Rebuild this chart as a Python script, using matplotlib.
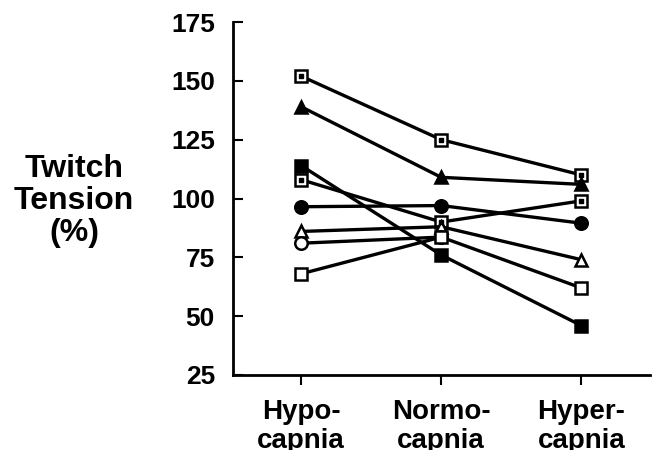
import numpy as np
import matplotlib
matplotlib.use("Agg")
import matplotlib.pyplot as plt

categories = ["Hypo-\ncapnia", "Normo-\ncapnia", "Hyper-\ncapnia"]
s_dotsq1 = [152, 125, 110]
s_filltri = [139, 109, 106]
s_fillsq = [114, 76, 46]
s_dotsq2 = [108, 90, 99]
s_fillcirc = [96.5, 97, 89.5]
s_opentri = [86, 88, 74]
s_opencirc = [81, 83.6, np.nan]
s_opensq = [68, 83.6, 62]
yticks = [25, 50, 75, 100, 125, 150, 175]

plt.rcParams['font.family'] = ['Liberation Sans', 'DejaVu Sans']
plt.rcParams['font.weight'] = 'bold'

fig = plt.figure(figsize=(6.52, 4.5), dpi=100)
ax = fig.add_axes([233/652, 75/450, (650-233)/652, (375-22)/450])
x = np.arange(len(categories))

lw = 2.4
ms = 9
mew = 1.8
series = [
    (s_dotsq1, 's', 'white', True),
    (s_filltri, '^', 'black', False),
    (s_fillsq, 's', 'black', False),
    (s_dotsq2, 's', 'white', True),
    (s_fillcirc, 'o', 'black', False),
    (s_opentri, '^', 'white', False),
    (s_opencirc, 'o', 'white', False),
    (s_opensq, 's', 'white', False),
]
for vals, mk, fc, dot in series:
    ax.plot(x, vals, color='black', lw=lw, marker=mk, ms=ms, mfc=fc,
            mec='black', mew=mew, zorder=3)
    if dot:
        ax.plot(x, vals, ls='none', marker='s', ms=2.4, color='black', zorder=4)

ax.set_xlim(-0.486, 2.49)
ax.set_ylim(25, 175)
ax.set_yticks(yticks)
ax.set_xticks(x)
ax.set_xticklabels(categories, fontsize=20, fontweight='bold', linespacing=1.15)
ax.tick_params(axis='y', direction='in', length=7, width=1.5, pad=13,
               labelsize=19)
ax.tick_params(axis='x', direction='out', length=7, width=1.5, pad=10)
for lab in ax.get_yticklabels():
    lab.set_fontweight('bold')
for s in ['top', 'right']:
    ax.spines[s].set_visible(False)
for s in ['left', 'bottom']:
    ax.spines[s].set_linewidth(2.0)

fig.text(74/652, 1 - 201/450, "Twitch\nTension\n(%)", ha='center', va='center',
         fontsize=23, fontweight='bold', linespacing=1.1)

fig.savefig("out.png", dpi=100)
